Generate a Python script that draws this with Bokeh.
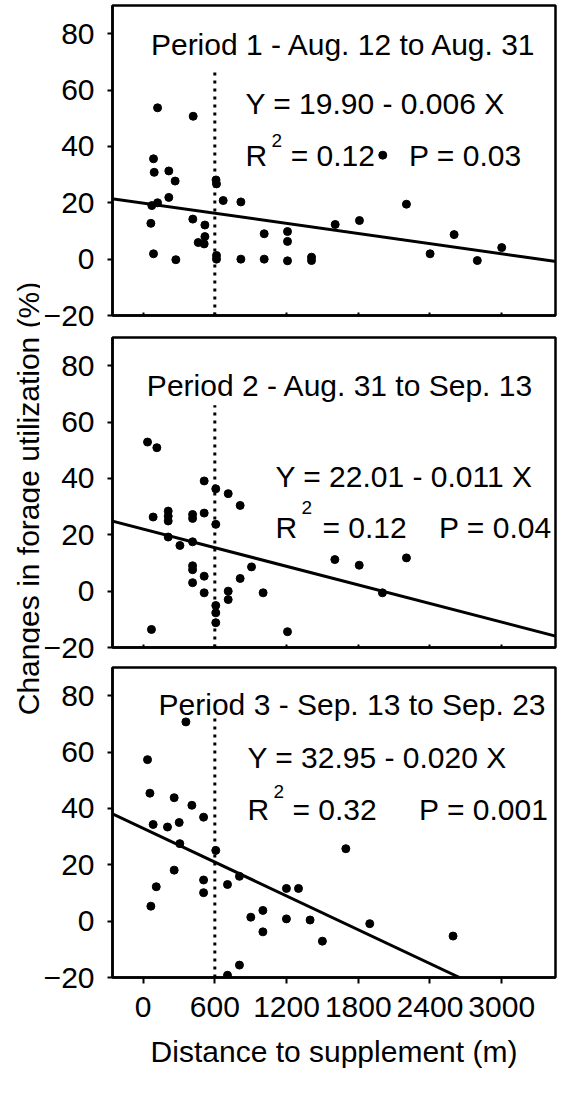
import math
from bokeh.plotting import figure
from bokeh.layouts import column, row
from bokeh.models import Range1d, FixedTicker, Label, Slope
from bokeh.embed import file_html
from bokeh.resources import INLINE

FONT = "Liberation Sans"
BIG = "30px"
SUP = "19px"

# ---------------- data ----------------
x_ticks = [0, 600, 1200, 1800, 2400, 3000]
y_ticks = [-20, 0, 20, 40, 60, 80]
x_lim = [-256, 3450]
y_lim = [-20, 90]

p1_dist = [121, 419, 87, 93, 215, 268, 610, 614, 215, 121, 73, 670, 818, 2203,
           65, 416, 517, 517, 461, 511, 1013, 1208, 1208, 1607, 1810, 2005,
           87, 274, 614, 614, 818, 1013, 1208, 1409, 1409, 2401, 2602, 2796, 3000]
p1_change = [53.7, 50.7, 35.6, 30.8, 31.3, 27.7, 28.1, 26.7, 21.9, 20.0, 19.0, 20.8, 20.3, 19.5,
             12.7, 14.2, 12.1, 8.0, 5.9, 5.4, 9.0, 9.8, 6.3, 12.3, 13.7, 36.9,
             1.9, -0.2, 1.3, 0.0, 0.0, 0.0, -0.6, 0.7, -0.5, 1.9, 8.7, -0.5, 4.1]

p2_dist = [37, 115, 511, 608, 712, 812, 84, 210, 210, 210, 414, 414, 511, 608,
           210, 308, 414, 414, 414, 414, 511, 511, 907, 812, 712, 712, 1004,
           608, 608, 608, 70, 1208, 1604, 1808, 2203, 2002]
p2_change = [52.9, 50.9, 39.1, 36.3, 34.6, 30.4, 26.3, 28.4, 26.6, 24.9, 27.2, 25.8, 27.7, 23.7,
             19.2, 16.2, 17.5, 9.0, 7.6, 3.0, 5.3, -0.6, 8.6, 4.5, 0.0, -3.0, -0.6,
             -5.1, -7.7, -11.2, -13.6, -14.4, 11.2, 9.2, 11.8, -0.6]

p3_dist = [358, 37, 57, 260, 408, 506, 84, 204, 302, 307, 608, 1696, 260, 110,
           506, 506, 706, 806, 1199, 1300, 65, 901, 1002, 1002, 1199, 1397, 1500,
           1896, 2593, 806, 706]
p3_change = [70.7, 57.3, 45.4, 43.8, 41.1, 36.9, 34.3, 33.4, 35.0, 27.5, 25.1, 25.7, 18.1, 12.2,
             14.6, 10.1, 13.0, 15.9, 11.6, 11.6, 5.3, 1.4, 3.8, -3.8, 0.8, 0.4, -7.1,
             -0.9, -5.3, -15.6, -19.2]

titles = ["Period 1 - Aug. 12 to Aug. 31",
          "Period 2 - Aug. 31 to Sep. 13",
          "Period 3 - Sep. 13 to Sep. 23"]
equations = ["Y = 19.90 - 0.006 X", "Y = 22.01 - 0.011 X", "Y = 32.95 - 0.020 X"]
r2_values = ["= 0.12", "= 0.12", "= 0.32"]
p_values = ["P = 0.03", "P = 0.04", "P = 0.001"]
intercepts = [19.90, 22.01, 32.95]
slopes = [-0.006, -0.011, -0.020]
supplement_dist = 600
dotted_tops = [67, 66, 72]

x_label = "Distance to supplement (m)"
y_label = "Changes in forage utilization (%)"

# text placement (data coordinates of each panel): title, equation, R, sup 2, "= r2", P
layout_pos = [
    dict(title=(1684, 76.2), eq=(856, 55.2), R=(856, 36.9), sup=(1075, 42.2), r2=(1235, 36.9), P=(2225, 36.9)),
    dict(title=(1650, 73.1), eq=(1107, 40.8), R=(1107, 22.5), sup=(1326, 29.6), r2=(1500, 22.5), P=(2476, 22.5)),
    dict(title=(1748, 76.9), eq=(873, 58.0), R=(873, 39.6), sup=(1090, 46.1), r2=(1249, 39.6), P=(2309, 39.6)),
]

dists = [p1_dist, p2_dist, p3_dist]
changes = [p1_change, p2_change, p3_change]


def lab(p, xy, text, size=BIG, align="left"):
    p.add_layout(Label(x=xy[0], y=xy[1], text=text, text_font=FONT, text_font_size=size,
                       text_color="black", text_align=align, text_baseline="alphabetic"))


def make_panel(i, top_border, bottom_border, last):
    p = figure(frame_width=443, frame_height=310,
               x_range=Range1d(x_lim[0], x_lim[1]), y_range=Range1d(y_lim[0], y_lim[1]),
               output_backend="svg", toolbar_location=None,
               min_border_left=68, min_border_right=2,
               min_border_top=top_border, min_border_bottom=bottom_border)
    p.xgrid.visible = False
    p.ygrid.visible = False
    p.background_fill_color = "white"
    p.border_fill_color = "white"
    p.outline_line_color = "black"
    p.outline_line_width = 2.5
    p.outline_line_alpha = 1.0

    ya = p.yaxis[0]
    ya.ticker = FixedTicker(ticks=y_ticks)
    ya.minor_tick_line_color = None
    ya.major_tick_in = 0
    ya.major_tick_out = 5
    ya.major_tick_line_width = 2
    ya.axis_line_width = 2.5
    ya.major_label_text_font = FONT
    ya.major_label_text_font_size = BIG
    ya.major_label_text_color = "black"
    ya.major_label_standoff = 13

    xa = p.xaxis[0]
    xa.ticker = FixedTicker(ticks=x_ticks)
    xa.minor_tick_line_color = None
    xa.major_tick_line_width = 2
    xa.axis_line_width = 2.5
    if last:
        xa.major_tick_in = 0
        xa.major_tick_out = 6
        xa.major_label_text_font = FONT
        xa.major_label_text_font_size = BIG
        xa.major_label_text_color = "black"
        xa.major_label_standoff = 13
        xa.axis_label = x_label
        xa.axis_label_text_font = FONT
        xa.axis_label_text_font_size = BIG
        xa.axis_label_text_font_style = "normal"
        xa.axis_label_text_color = "black"
        xa.axis_label_standoff = 15
    else:
        xa.major_tick_in = 3
        xa.major_tick_out = 0
        xa.major_label_text_font_size = "1px"
        xa.major_label_text_color = None
        xa.major_label_standoff = 0

    p.segment(x0=[supplement_dist], y0=[y_lim[0]], x1=[supplement_dist], y1=[dotted_tops[i]],
              line_color="black", line_width=3, line_dash="3 5")
    p.add_layout(Slope(gradient=slopes[i], y_intercept=intercepts[i],
                       line_color="black", line_width=3))
    p.scatter(dists[i], changes[i], size=8, color="black")

    pos = layout_pos[i]
    lab(p, pos["title"], titles[i], align="center")
    lab(p, pos["eq"], equations[i])
    lab(p, pos["R"], "R")
    lab(p, pos["sup"], "2", size=SUP)
    lab(p, pos["r2"], r2_values[i])
    lab(p, pos["P"], p_values[i])
    return p


p1 = make_panel(0, 5, 18, False)
p2 = make_panel(1, 4, 16, False)
p3 = make_panel(2, 4, 101, True)

lf = figure(width=40, height=1078, x_range=Range1d(0, 40), y_range=Range1d(0, 1078),
            min_border=0, output_backend="svg", toolbar_location=None)
lf.axis.visible = False
lf.xgrid.visible = False
lf.ygrid.visible = False
lf.outline_line_color = None
lf.background_fill_color = "white"
lf.border_fill_color = "white"
lf.add_layout(Label(x=28, y=580, text=y_label, angle=math.pi / 2, text_font=FONT,
                    text_font_size=BIG, text_color="black", text_align="center",
                    text_baseline="alphabetic"))

layout = row(lf, column(p1, p2, p3))
open("out.html", "w").write(file_html(layout, INLINE))
